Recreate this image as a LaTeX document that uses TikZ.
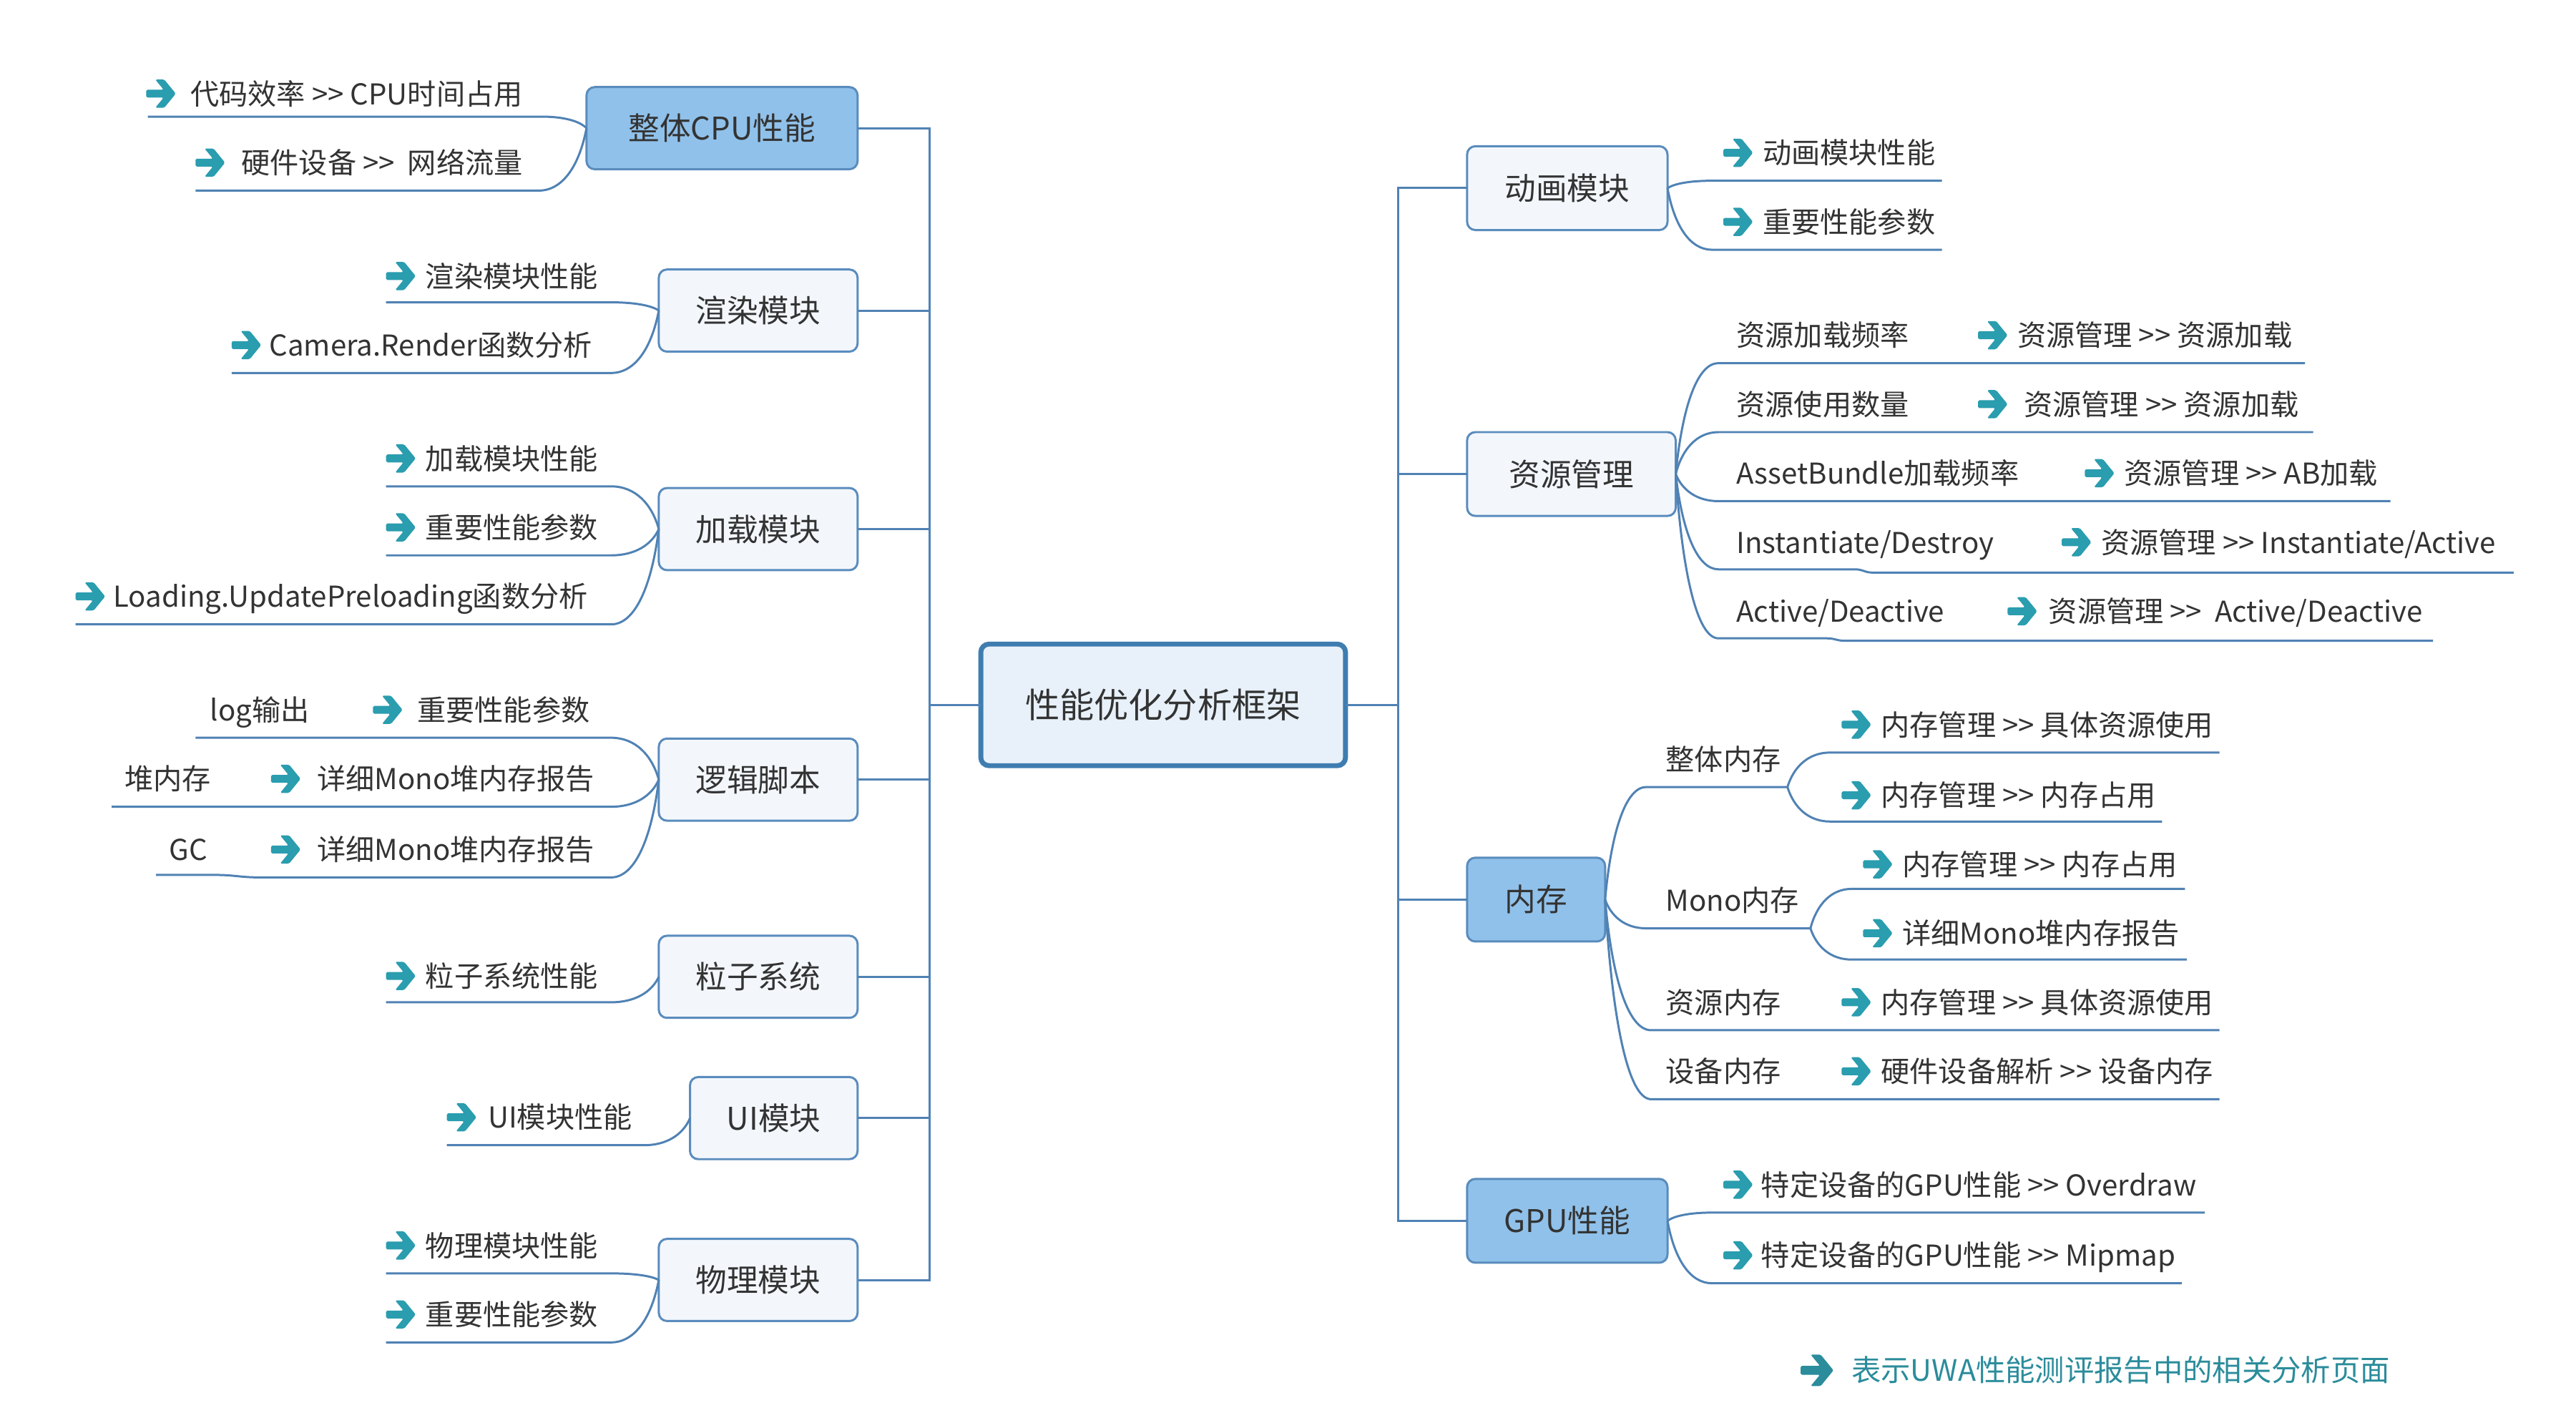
\documentclass[tikz,border=0pt]{standalone}
\usepackage{fontspec}
\setmainfont{Noto Sans CJK SC}
\definecolor{connc}{HTML}{5082B4}
\definecolor{boxc}{HTML}{5A8CBD}
\definecolor{lightf}{HTML}{F3F7FC}
\definecolor{bluef}{HTML}{90C1EA}
\definecolor{centerd}{HTML}{3F7DB0}
\definecolor{centerf}{HTML}{E8F1FA}
\definecolor{arrowc}{HTML}{2A9DAF}
\definecolor{legc}{HTML}{2B8C9B}
\definecolor{textc}{HTML}{333333}
\tikzset{
 conn/.style={draw=connc, line width=1.3pt},
 mmbox/.style={draw=boxc, line width=1.3pt, rounded corners=5pt, fill=lightf, text=textc,
   font=\fontsize{19}{23}\selectfont, inner sep=0pt, outer sep=0pt, text height=16.7pt, text depth=2.3pt,
   align=center, minimum width=121, minimum height=50},
 bluebox/.style={mmbox, fill=bluef},
 rootbox/.style={mmbox, draw=centerd, line width=3pt, fill=centerf, font=\fontsize{21}{25}\selectfont,
   text height=18.5pt, text depth=2.5pt},
 leaf/.style={anchor=west, inner sep=0pt, outer sep=0pt, text=textc, font=\fontsize{17.5}{21}\selectfont,
   text height=15.4pt, text depth=2.1pt},
 tarrow/.pic={\fill[arrowc, rounded corners=0.8pt] (-9,-2.4) -- (1.6,-2.4) -- (-3.5,-8.6) -- (2,-8.6) -- (9,0)
   -- (2,8.6) -- (-3.5,8.6) -- (1.6,2.4) -- (-9,2.4) -- cycle;},
 larrow/.pic={\fill[legc, rounded corners=0.8pt] (-10,-2.7) -- (1.8,-2.7) -- (-3.9,-9.6) -- (2.2,-9.6) -- (10,0)
   -- (2.2,9.6) -- (-3.9,9.6) -- (1.8,2.7) -- (-10,2.7) -- cycle;}
}
% curve from anchor #1 (numbers #2,#3) to underline (#4,#5) then along to #6
\newcommand\mmCurve[6]{%
  \pgfmathsetmacro\mmA{#4+0.5*(#2-#4)}%
  \pgfmathsetmacro\mmB{#2-0.15*(#2-#4)}%
  \pgfmathsetmacro\mmC{#3+0.6*(#5-#3)}%
  \draw[conn] (#1) .. controls (\mmB,\mmC) and (\mmA,#5) .. (#4,#5) -- (#6,#5);%
}
% arrow leaf: name, arrow x, y, text x, text
\newcommand\mmAL[5]{\path (#2,#3) pic {tarrow}; \node[leaf] (#1) at (#4,#3) {#5};}
\newcommand\mmgg{>{}>}
\begin{document}
\begin{tikzpicture}[x=1pt,y=-1pt]
\useasboundingbox (0,0) rectangle (1568,859.6);
\fill[white] (0,0) rectangle (1568,859.6);

% root
\node[rootbox, minimum width=222, minimum height=74] (root) at (708,429) {性能优化分析框架};

% left nodes
\node[bluebox, minimum width=165] (cpu) at (439.5,78) {整体CPU性能};
\node[mmbox] (render) at (461.5,189) {渲染模块};
\node[mmbox] (load) at (461.5,322) {加载模块};
\node[mmbox] (logic) at (461.5,474.5) {逻辑脚本};
\node[mmbox] (particle) at (461.5,594.5) {粒子系统};
\node[mmbox, minimum width=102] (ui) at (471,680.5) {UI模块};
\node[mmbox] (phys) at (461.5,779) {物理模块};

\coordinate (tlT) at (566,78);
\coordinate (tlB) at (566,779);
\draw[conn] (root.west) -- (root.west -| tlT);
\draw[conn] (cpu.east) -- (tlT) -- (tlB) -- (phys.east);
\foreach \n in {render,load,logic,particle,ui} {\draw[conn] (\n.east) -- (\n.east -| tlT);}

% right nodes
\node[mmbox, minimum width=122, minimum height=51] (anim) at (954,114.5) {动画模块};
\node[mmbox, minimum width=127, minimum height=51] (res) at (956.5,288.5) {资源管理};
\node[bluebox, minimum width=84, minimum height=51] (mem) at (935,547.5) {内存};
\node[bluebox, minimum width=122, minimum height=51] (gpu) at (954,743) {GPU性能};

\coordinate (trT) at (851,114.5);
\coordinate (trB) at (851,743);
\draw[conn] (root.east) -- (root.east -| trT);
\draw[conn] (anim.west) -- (trT) -- (trB) -- (gpu.west);
\foreach \n in {res,mem} {\draw[conn] (\n.west) -- (\n.west -| trT);}

% ---- CPU leaves
\mmAL{c1}{98}{57}{116}{代码效率 \mmgg{} CPU时间占用}
\mmCurve{cpu.west}{357}{78}{330}{71}{90}
\mmAL{c2}{128}{99}{147}{硬件设备 \mmgg\ \ 网络流量}
\mmCurve{cpu.west}{357}{78}{328}{116}{119}

% ---- render leaves
\mmAL{r1}{244}{168}{259}{渲染模块性能}
\mmCurve{render.west}{401}{189}{372}{184}{235}
\mmAL{r2}{150}{210}{164}{Camera.Render函数分析}
\mmCurve{render.west}{401}{189}{372}{227}{141}

% ---- load leaves
\mmAL{l1}{244}{279}{259}{加载模块性能}
\mmCurve{load.west}{401}{322}{372}{296}{235}
\mmAL{l2}{244}{321}{259}{重要性能参数}
\mmCurve{load.west}{401}{322}{372}{338}{235}
\mmAL{l3}{55}{363}{69}{Loading.UpdatePreloading函数分析}
\mmCurve{load.west}{401}{322}{372}{380}{46}

% ---- logic leaves
\node[leaf] (g1l) at (128,432) {log输出};
\mmAL{g1}{236}{432}{254}{重要性能参数}
\mmCurve{logic.west}{401}{474.5}{372}{449}{119}
\node[leaf] (g2l) at (76,474) {堆内存};
\mmAL{g2}{174}{474}{193}{详细Mono堆内存报告}
\mmCurve{logic.west}{401}{474.5}{372}{491}{68}
\node[leaf] (g3l) at (103,517) {GC};
\mmAL{g3}{174}{517}{193}{详细Mono堆内存报告}
\mmCurve{logic.west}{401}{474.5}{372}{534}{158}
\draw[conn] (158,534) .. controls (146,534) and (143,532.5) .. (131,532.5) -- (95,532.5);

% ---- particle
\mmAL{p1}{244}{594}{259}{粒子系统性能}
\mmCurve{particle.west}{401}{594.5}{372}{610}{235}

% ---- UI
\mmAL{u1}{281}{680}{297}{UI模块性能}
\mmCurve{ui.west}{420}{680.5}{392}{697}{272}

% ---- physics
\mmAL{f1}{244}{758}{259}{物理模块性能}
\mmCurve{phys.west}{401}{779}{372}{775}{235}
\mmAL{f2}{244}{800}{259}{重要性能参数}
\mmCurve{phys.west}{401}{779}{372}{817}{235}

% ---- animation
\mmAL{a1}{1058}{93}{1073}{动画模块性能}
\mmCurve{anim.east}{1015}{114.5}{1042}{110}{1182}
\mmAL{a2}{1058}{135}{1073}{重要性能参数}
\mmCurve{anim.east}{1015}{114.5}{1042}{152}{1182}

% ---- resources
\node[leaf] (s1l) at (1057,204) {资源加载频率};
\mmAL{s1}{1213}{204}{1228}{资源管理 \mmgg{} 资源加载}
\mmCurve{res.east}{1020}{288.5}{1046}{221}{1403}
\node[leaf] (s2l) at (1057,246) {资源使用数量};
\mmAL{s2}{1213}{246}{1232}{资源管理 \mmgg{} 资源加载}
\mmCurve{res.east}{1020}{288.5}{1046}{263}{1408}
\node[leaf] (s3l) at (1057,288) {AssetBundle加载频率};
\mmAL{s3}{1278}{288}{1293}{资源管理 \mmgg{} AB加载}
\mmCurve{res.east}{1020}{288.5}{1046}{305}{1455}
\node[leaf] (s4l) at (1057,330) {Instantiate/Destroy};
\mmAL{s4}{1264}{330}{1279}{资源管理 \mmgg{} Instantiate/Active}
\mmCurve{res.east}{1020}{288.5}{1046}{346.5}{1129}
\draw[conn] (1129,346.5) .. controls (1134,346.5) and (1135,348.5) .. (1140,348.5) -- (1530,348.5);
\node[leaf] (s5l) at (1057,372) {Active/Deactive};
\mmAL{s5}{1231}{372}{1247}{资源管理 \mmgg\ \ Active/Deactive}
\mmCurve{res.east}{1020}{288.5}{1046}{388.5}{1112}
\draw[conn] (1112,388.5) .. controls (1117,388.5) and (1118,390) .. (1123,390) -- (1481,390);

% ---- memory
\node[leaf] (m1l) at (1014,462) {整体内存};
\mmCurve{mem.east}{977}{547.5}{1002}{479}{1088}
\coordinate (mj1) at (1088,479);
\mmAL{m11}{1130}{441}{1145}{内存管理 \mmgg{} 具体资源使用}
\mmCurve{mj1}{1088}{479}{1114}{458}{1351}
\mmAL{m12}{1130}{484}{1145}{内存管理 \mmgg{} 内存占用}
\mmCurve{mj1}{1088}{479}{1114}{500}{1316}

\node[leaf] (m2l) at (1014,548) {Mono内存};
\mmCurve{mem.east}{977}{547.5}{1002}{565}{1102}
\coordinate (mj2) at (1102,565);
\mmAL{m21}{1143}{526}{1158}{内存管理 \mmgg{} 内存占用}
\mmCurve{mj2}{1102}{565}{1127}{541}{1330}
\mmAL{m22}{1143}{568}{1158}{详细Mono堆内存报告}
\mmCurve{mj2}{1102}{565}{1127}{584}{1331}

\node[leaf] (m3l) at (1014,610) {资源内存};
\mmAL{m3}{1130}{610}{1145}{内存管理 \mmgg{} 具体资源使用}
\mmCurve{mem.east}{977}{547.5}{1005}{627}{1351}
\node[leaf] (m4l) at (1014,652) {设备内存};
\mmAL{m4}{1130}{652}{1145}{硬件设备解析 \mmgg{} 设备内存}
\mmCurve{mem.east}{977}{547.5}{1005}{669}{1351}

% ---- GPU
\mmAL{gp1}{1058}{721}{1072}{特定设备的GPU性能 \mmgg{} Overdraw}
\mmCurve{gpu.east}{1015}{743}{1042}{738}{1342}
\mmAL{gp2}{1058}{764}{1072}{特定设备的GPU性能 \mmgg{} Mipmap}
\mmCurve{gpu.east}{1015}{743}{1042}{781}{1328}

% ---- legend
\path (1106,834) pic {larrow};
\node[leaf, text=legc, font=\fontsize{18}{22}\selectfont] (legend) at (1127,834) {表示UWA性能测评报告中的相关分析页面};
\end{tikzpicture}
\end{document}
